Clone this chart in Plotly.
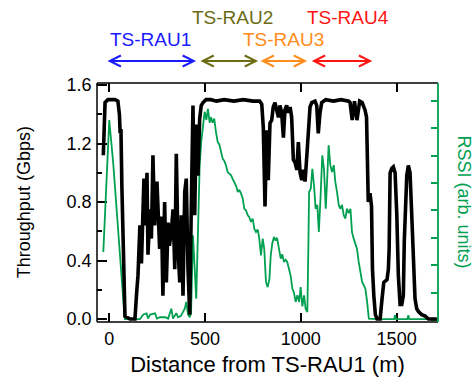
import plotly.graph_objects as go

# ---------------- data ----------------
dist_tp = [-31, -22, -7, 10, 30, 45, 53, 57, 61, 66, 74, 82, 108, 134, 143, 150, 160, 168, 181, 189,
           197, 202, 213, 220, 228, 237, 249, 263, 273, 280, 289, 298, 307, 314, 324, 333, 342, 350,
           359, 368, 376, 385, 394, 402, 411, 420, 428, 437, 446, 454, 463, 472, 480, 489, 505, 530,
           560, 600, 650, 700, 750, 785, 796, 804, 813, 822, 830, 839, 848, 856, 865, 874, 883, 891,
           900, 909, 917, 926, 935, 944, 952, 961, 970, 979, 987, 996, 1005, 1013, 1022, 1031, 1039,
           1048, 1057, 1074, 1083, 1091, 1100, 1109, 1130, 1170, 1210, 1250, 1257, 1268, 1280, 1293,
           1307, 1320, 1335, 1343, 1352, 1361, 1369, 1374, 1381, 1389, 1398, 1414, 1424, 1433, 1450,
           1457, 1461, 1466, 1475, 1483, 1492, 1501, 1509, 1518, 1527, 1535, 1540, 1548, 1553, 1561,
           1570, 1579, 1587, 1596, 1605, 1614, 1631, 1649, 1666, 1710]
throughput = [1.12, 1.48, 1.50, 1.50, 1.50, 1.49, 1.40, 1.27, 1.30, 0.90, 0.40, 0.02, 0.0, 0.0, 0.18,
              0.30, 0.64, 0.38, 0.96, 0.64, 1.00, 0.44, 0.75, 0.55, 1.12, 0.64, 0.94, 0.48, 0.70, 0.16,
              0.80, 0.25, 0.66, 0.50, 0.60, 0.75, 0.34, 1.13, 0.48, 0.25, 0.71, 0.16, 0.87, 0.96, 0.34,
              0.03, 0.75, 1.46, 0.71, 1.33, 0.98, 1.37, 1.46, 1.48, 1.50, 1.50, 1.49, 1.50, 1.49, 1.50,
              1.49, 1.49, 1.47, 1.31, 0.77, 1.29, 0.95, 1.34, 1.36, 1.45, 1.48, 1.44, 1.38, 1.46, 1.41,
              1.24, 1.43, 1.46, 1.41, 1.45, 1.38, 1.09, 1.07, 1.02, 1.21, 1.00, 0.95, 1.02, 0.94, 1.11,
              1.29, 1.45, 1.48, 1.49, 1.46, 1.27, 1.41, 1.48, 1.50, 1.49, 1.50, 1.49, 1.48, 1.36, 1.49,
              1.36, 1.49, 1.48, 1.43, 1.38, 0.80, 0.86, 0.77, 0.34, 0.16, 0.03, 0.0, 0.0, 0.14, 0.25,
              0.27, 0.34, 0.48, 1.00, 1.03, 1.04, 1.00, 0.71, 0.30, 0.10, 0.10, 0.16, 0.53, 0.96, 0.98,
              1.05, 1.00, 0.71, 0.34, 0.14, 0.07, 0.05, 0.03, 0.02, 0.0, 0.0]

dist_rssi = [-31, 0, 21, 39, 56, 73, 79, 82, 120, 160, 178, 195, 202, 213, 239, 249, 265, 292, 307, 324,
             333, 350, 359, 374, 394, 402, 411, 420, 427, 433, 437, 446, 454, 463, 472, 480, 489, 498,
             507, 515, 524, 531, 539, 548, 557, 566, 575, 583, 592, 601, 609, 618, 627, 636, 644, 653,
             662, 671, 679, 688, 697, 705, 714, 723, 731, 740, 749, 757, 766, 775, 783, 792, 801, 809,
             818, 827, 836, 843, 851, 860, 868, 876, 886, 895, 903, 912, 921, 929, 938, 947, 956, 964,
             973, 982, 991, 999, 1008, 1017, 1025, 1034, 1040, 1043, 1052, 1060, 1069, 1077, 1086,
             1094, 1103, 1112, 1121, 1130, 1138, 1145, 1154, 1163, 1172, 1180, 1189, 1198, 1206, 1215,
             1224, 1232, 1241, 1250, 1259, 1267, 1276, 1285, 1293, 1302, 1311, 1320, 1328, 1337, 1346,
             1355, 1400, 1487, 1492, 1497, 1556, 1561, 1566, 1710]
rssi = [2.48, 7.3, 5.7, 3.9, 2.3, 0.85, 0.18, 0.03, 0.03, 0.03, 0.2, 0.24, 0.05, 0.2, 0.24, 0.05, 0.1, 0.1,
        0.05, 0.41, 0.05, 0.25, 0.1, 0.15, 0.41, 0.66, 0.2, 0.1, 0.25, 1.87, 3.09, 1.87, 0.78, 3.2, 5.65,
        6.5, 6.98, 7.6, 7.3, 7.71, 7.2, 7.4, 7.2, 7.35, 6.86, 6.5, 6.4, 6.13, 5.89, 5.8, 5.65, 5.4, 5.35,
        5.28, 5.15, 5.04, 4.9, 4.67, 4.75, 4.61, 4.43, 4.06, 4.0, 3.82, 3.75, 3.58, 3.7, 3.33, 3.21, 3.3,
        2.97, 2.36, 2.97, 2.6, 1.39, 1.2, 1.5, 2.36, 2.8, 3.03, 2.9, 3.0, 2.6, 2.24, 2.4, 2.12, 2.2, 2.12,
        1.87, 1.6, 1.14, 1.0, 0.66, 0.9, 0.66, 1.2, 0.5, 0.9, 0.41, 0.29, 3.0, 4.67, 4.8, 5.52, 4.9, 4.06,
        4.2, 3.21, 4.5, 6.01, 5.5, 4.06, 5.2, 6.38, 5.65, 5.4, 5.65, 5.04, 4.67, 4.19, 4.06, 4.2, 3.82,
        3.7, 4.06, 3.9, 4.06, 3.21, 2.97, 2.72, 2.6, 2.12, 1.75, 1.39, 1.27, 1.14, 0.66, 0.05, 0.03, 0.03,
        0.17, 0.03, 0.03, 0.17, 0.03, 0.03]

rau_names = ["TS-RAU1", "TS-RAU2", "TS-RAU3", "TS-RAU4"]
rau_start = [-17, 468, 782, 1049]
rau_end = [453, 777, 1033, 1373]
rau_label_x = [213, 641, 912, 1246]
rau_colors = ["#1a1aff", "#6b6b14", "#ff8c1a", "#ff1414"]

GREEN = "#00a050"
FONT = "Liberation Sans, Arial, Helvetica, sans-serif"

fig = go.Figure()
fig.add_trace(go.Scatter(x=dist_tp, y=throughput, mode="lines", yaxis="y", zorder=2,
                         line=dict(color="black", width=3.6), showlegend=False))
fig.add_trace(go.Scatter(x=dist_rssi, y=rssi, mode="lines", yaxis="y2", zorder=1,
                         line=dict(color=GREEN, width=1.8), showlegend=False))

annotations = []
label_rows = [1.18, 1.272, 1.18, 1.272]
for name, s, e, lx, c, ly in zip(rau_names, rau_start, rau_end, rau_label_x, rau_colors, label_rows):
    annotations.append(dict(x=e, y=1.092, xref="x", yref="paper", ax=s, ay=0, axref="x", ayref="pixel",
                            showarrow=True, arrowhead=5, startarrowhead=5, arrowside="end+start",
                            arrowsize=1.2, startarrowsize=1.2, arrowwidth=1.8, arrowcolor=c, text=""))
    annotations.append(dict(x=lx, y=ly, xref="x", yref="paper", text=name, showarrow=False,
                            xanchor="center", yanchor="middle",
                            font=dict(color=c, size=19, family=FONT)))

annotations.append(dict(x=-0.215, y=0.5, xref="paper", yref="paper", text="Throughput (Gbps)",
                        textangle=-90, showarrow=False, xanchor="center", yanchor="middle",
                        font=dict(size=18, color="black", family=FONT)))
annotations.append(dict(x=1.079, y=0.5, xref="paper", yref="paper", text="RSSI (arb. units)",
                        textangle=90, showarrow=False, xanchor="center", yanchor="middle",
                        font=dict(size=18, color=GREEN, family=FONT)))

# plot frame (left/top/bottom black, right green)
frame = [
    dict(type="line", xref="paper", yref="paper", x0=0, x1=0, y0=0, y1=1,
         line=dict(color="black", width=1.5), layer="above"),
    dict(type="line", xref="paper", yref="paper", x0=0, x1=1, y0=0, y1=0,
         line=dict(color="black", width=1.5), layer="above"),
    dict(type="line", xref="paper", yref="paper", x0=0, x1=1, y0=1, y1=1,
         line=dict(color="black", width=1.5), layer="above"),
    dict(type="line", xref="paper", yref="paper", x0=1, x1=1, y0=0, y1=1,
         line=dict(color=GREEN, width=1.8), layer="above"),
]

fig.update_layout(
    width=474, height=385,
    margin=dict(l=97, r=36, t=83, b=63),
    paper_bgcolor="white", plot_bgcolor="white",
    font=dict(family=FONT, size=18, color="black"),
    xaxis=dict(range=[-64, 1716], tickvals=[0, 500, 1000, 1500], ticks="inside", ticklen=9,
               tickwidth=1.5, tickcolor="black", showline=True, linecolor="black", linewidth=1.5,
               mirror="ticks", showgrid=False, zeroline=False,
               title=dict(text="Distance from TS-RAU1 (m)", standoff=8)),
    yaxis=dict(range=[-0.0205, 1.614], side="left", tickvals=[0, 0.4, 0.8, 1.2, 1.6],
               tickformat=".1f", ticks="inside", ticklen=10, tickwidth=1.5, tickcolor="black",
               showline=True, linecolor="black", linewidth=1.5, showgrid=False, zeroline=False,
               minor=dict(tickvals=[0.2, 0.6, 1.0, 1.4], ticks="inside", ticklen=5, tickwidth=1.5,
                          tickcolor="black")),
    yaxis2=dict(range=[-0.073, 8.65], overlaying="y", side="right", dtick=1, tick0=0, ticks="inside",
                ticklen=7, tickwidth=1.8, tickcolor=GREEN, showticklabels=False, showline=True,
                linecolor=GREEN, linewidth=1.8, showgrid=False, zeroline=False),
    shapes=frame,
    annotations=annotations,
)

fig.write_html("out.html")
